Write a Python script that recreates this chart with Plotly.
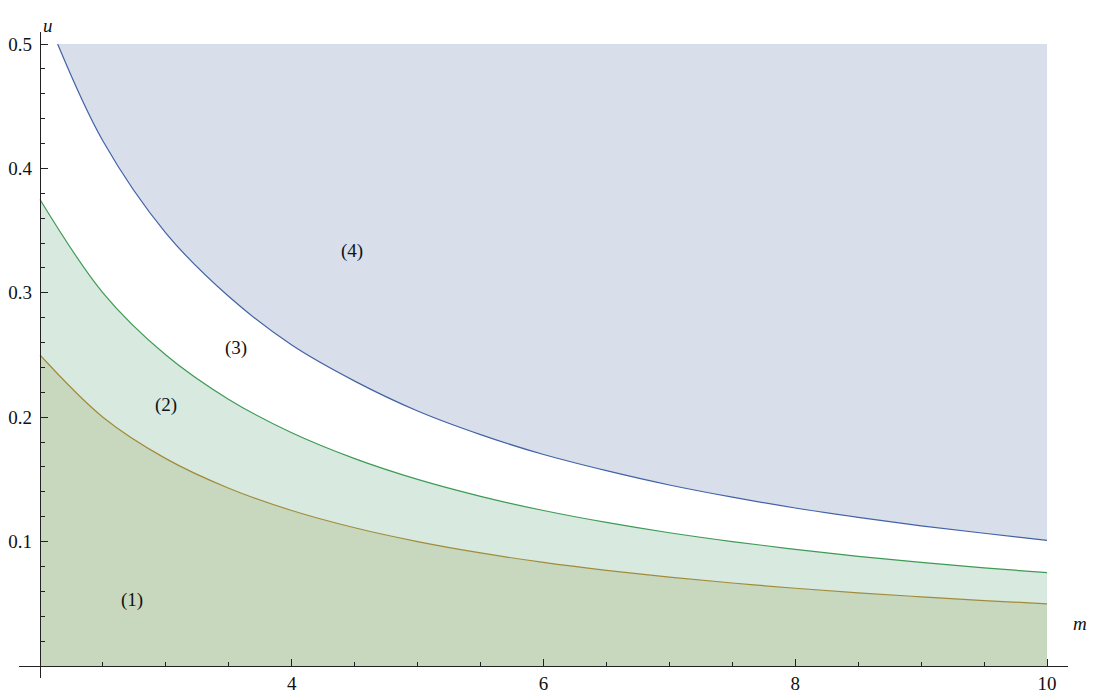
import plotly.graph_objects as go

# values
m_vals = [2.0, 2.5, 3.0, 3.5, 4.0, 4.5, 5.0, 5.5, 6.0, 6.5, 7.0, 7.5, 8.0, 8.5, 9.0, 9.5, 10.0]
u_curve1 = [0.25, 0.2, 0.1667, 0.1429, 0.125, 0.1111, 0.1, 0.0909, 0.0833, 0.0769, 0.0714, 0.0667, 0.0625, 0.0588, 0.0556, 0.0526, 0.05]
u_curve2 = [0.375, 0.3, 0.25, 0.2143, 0.1875, 0.1667, 0.15, 0.1364, 0.125, 0.1154, 0.1071, 0.1, 0.0938, 0.0882, 0.0833, 0.0789, 0.075]
m_blue = [2.14, 2.5, 3.0, 3.5, 4.0, 4.5, 5.0, 5.5, 6.0, 6.5, 7.0, 7.5, 8.0, 8.5, 9.0, 9.5, 10.0]
u_curve3 = [0.5, 0.422, 0.348, 0.297, 0.258, 0.229, 0.205, 0.186, 0.170, 0.157, 0.1455, 0.1357, 0.127, 0.1195, 0.1127, 0.1067, 0.101]
u_top = 0.5

region_labels = ["(1)", "(2)", "(3)", "(4)"]
label_m = [2.73, 3.0, 3.56, 4.48]
label_u = [0.053, 0.21, 0.256, 0.334]

x_ticks = [4, 6, 8, 10]
y_ticks = [0.1, 0.2, 0.3, 0.4, 0.5]

SERIF = "Liberation Serif"
FS = 19

fig = go.Figure()
fig.add_trace(go.Scatter(x=m_vals, y=u_curve1, mode="lines", line=dict(color="#a08b3a", width=1.2, shape="spline"),
                         fill="tozeroy", fillcolor="#c8d8bf", hoverinfo="skip"))
fig.add_trace(go.Scatter(x=m_vals, y=u_curve2, mode="lines", line=dict(color="#3e9a55", width=1.2, shape="spline"),
                         fill="tonexty", fillcolor="#d8eadf", hoverinfo="skip"))
fig.add_trace(go.Scatter(x=[m_blue[0], m_vals[-1]], y=[u_top, u_top], mode="lines",
                         line=dict(width=0, color="rgba(0,0,0,0)"), hoverinfo="skip"))
fig.add_trace(go.Scatter(x=m_blue, y=u_curve3, mode="lines", line=dict(color="#4262a8", width=1.2, shape="spline"),
                         fill="tonexty", fillcolor="#d8deea", hoverinfo="skip"))

for t, xm, yu in zip(region_labels, label_m, label_u):
    fig.add_annotation(x=xm, y=yu, text=t, showarrow=False, font=dict(family=SERIF, size=FS, color="#111"))

# page has an 8px body margin; figure placed so plot area sits at page px 19..1068 / 32..678
OFF = 8
W, H = 1104 - OFF, 697 - OFF
L, T = 19 - OFF, 32 - OFF
R = W - (1068 - OFF)
B = H - (678 - OFF)
pw, ph = W - L - R, H - T - B
xmin, xmax = 1.8332, 10.1668
ymin, ymax = -0.00965, 0.50965
xpos = (2 - xmin) / (xmax - xmin)
ypos = (0 - ymin) / (ymax - ymin)

def px(xp):
    return (xp - OFF - L) / pw

def py(yp):
    return (H - B - (yp - OFF)) / ph

fig.add_annotation(xref="paper", yref="paper", x=px(41), y=py(13), text="<i>u</i>",
                   showarrow=False, font=dict(family=SERIF, size=FS, color="#111"))
fig.add_annotation(xref="paper", yref="paper", x=px(1089), y=py(636), text="<i>m</i>",
                   showarrow=False, font=dict(family=SERIF, size=FS, color="#111"))

fig.update_layout(
    width=W, height=H, margin=dict(l=L, r=R, t=T, b=B, autoexpand=False),
    plot_bgcolor="white", paper_bgcolor="white", showlegend=False,
    font=dict(family=SERIF, size=FS, color="#111"),
    xaxis=dict(range=[xmin, xmax], anchor="free", position=ypos, showgrid=False, zeroline=False,
               showline=True, linecolor="#222", linewidth=1.2, automargin=False,
               tickmode="array", tickvals=x_ticks, ticks="inside", ticklen=7, tickcolor="#222",
               minor=dict(dtick=0.5, tick0=2, ticks="inside", ticklen=4, tickcolor="#222"),
               tickfont=dict(family=SERIF, size=FS)),
    yaxis=dict(range=[ymin, ymax], anchor="free", position=xpos, showgrid=False, zeroline=False,
               showline=True, linecolor="#222", linewidth=1.2, automargin=False,
               tickmode="array", tickvals=y_ticks, ticks="inside", ticklen=7, tickcolor="#222",
               ticklabelstandoff=4,
               minor=dict(dtick=0.02, tick0=0, ticks="inside", ticklen=4, tickcolor="#222"),
               tickfont=dict(family=SERIF, size=FS)),
)

fig.write_html("out.html")
